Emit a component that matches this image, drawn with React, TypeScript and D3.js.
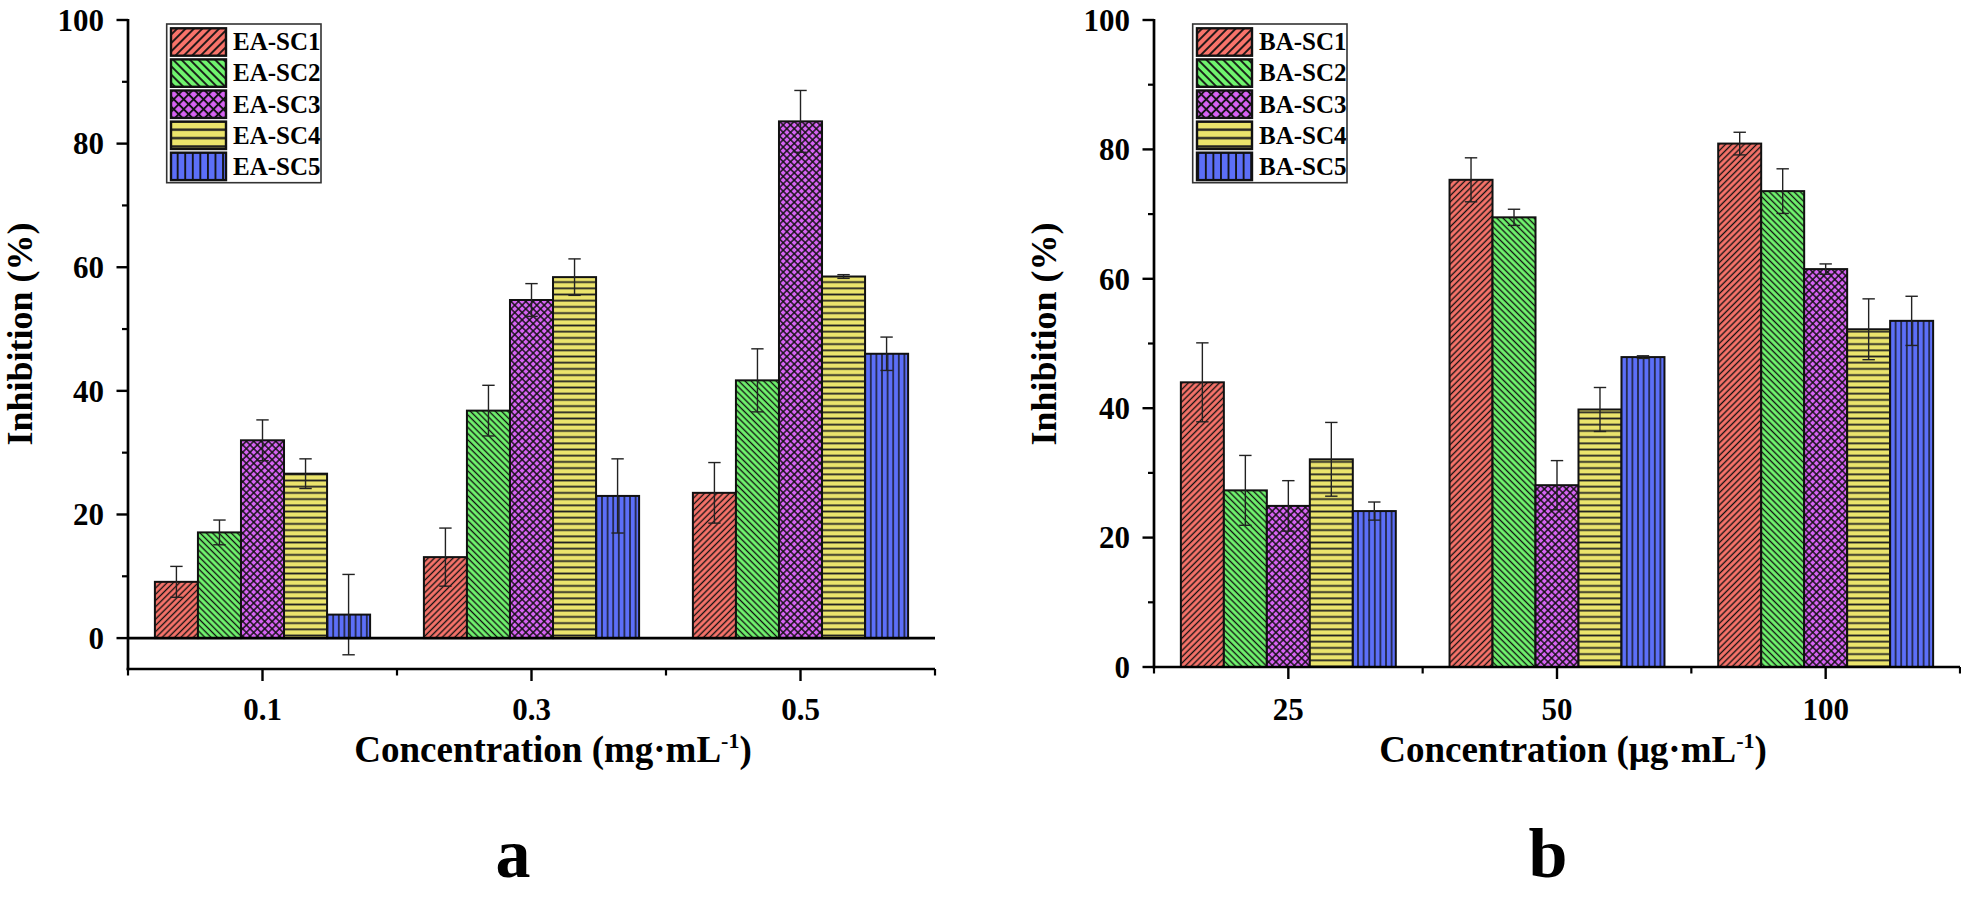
import React from "react";
import * as d3 from "d3";

// ---------- data ----------
const categoriesA = ["0.1", "0.3", "0.5"];
const seriesA = ["EA-SC1", "EA-SC2", "EA-SC3", "EA-SC4", "EA-SC5"];
const eaSC1 = [9.1, 13.1, 23.5];
const eaSC2 = [17.1, 36.8, 41.7];
const eaSC3 = [32.0, 54.7, 83.6];
const eaSC4 = [26.6, 58.4, 58.5];
const eaSC5 = [3.8, 23.0, 46.0];
const eaSC1Err = [2.5, 4.7, 4.9];
const eaSC2Err = [2.0, 4.1, 5.1];
const eaSC3Err = [3.3, 2.65, 5.0];
const eaSC4Err = [2.4, 2.95, 0.3];
const eaSC5Err = [6.5, 6.0, 2.7];

const categoriesB = ["25", "50", "100"];
const seriesB = ["BA-SC1", "BA-SC2", "BA-SC3", "BA-SC4", "BA-SC5"];
const baSC1 = [44.0, 75.3, 80.9];
const baSC2 = [27.3, 69.5, 73.55];
const baSC3 = [24.9, 28.1, 61.5];
const baSC4 = [32.1, 39.8, 52.2];
const baSC5 = [24.1, 47.9, 53.5];
const baSC1Err = [6.1, 3.4, 1.75];
const baSC2Err = [5.4, 1.25, 3.45];
const baSC3Err = [3.9, 3.8, 0.8];
const baSC4Err = [5.7, 3.4, 4.7];
const baSC5Err = [1.4, 0.2, 3.8];

const yMajorTicks = [0, 20, 40, 60, 80, 100];
const yMinorTicks = [10, 30, 50, 70, 90];

// ---------- style ----------
const FONT = '"Liberation Serif", "Times New Roman", Times, serif';
const COLORS = ["#F8736A", "#70F46E", "#D763F4", "#EBE46C", "#5C6FF8"];

function PatternDefs({ prefix, k }: { prefix: string; k: number }) {
  const lw = 1.35 * k;
  const sd = 4.4 * k;
  const sc = 5.2 * k;
  const sh = 6.2 * k;
  const sv = 5.6 * k;
  return (
    <>
      <pattern id={`${prefix}-0`} patternUnits="userSpaceOnUse" width={sd} height={sd} patternTransform="rotate(45)">
        <rect width={sd} height={sd} fill={COLORS[0]} />
        <line x1={sd / 2} y1={0} x2={sd / 2} y2={sd} stroke="#111" strokeWidth={lw} />
      </pattern>
      <pattern id={`${prefix}-1`} patternUnits="userSpaceOnUse" width={sd} height={sd} patternTransform="rotate(-45)">
        <rect width={sd} height={sd} fill={COLORS[1]} />
        <line x1={sd / 2} y1={0} x2={sd / 2} y2={sd} stroke="#111" strokeWidth={lw} />
      </pattern>
      <pattern id={`${prefix}-2`} patternUnits="userSpaceOnUse" width={sc} height={sc} patternTransform="rotate(45)">
        <rect width={sc} height={sc} fill={COLORS[2]} />
        <line x1={sc / 2} y1={0} x2={sc / 2} y2={sc} stroke="#111" strokeWidth={lw * 1.05} />
        <line x1={0} y1={sc / 2} x2={sc} y2={sc / 2} stroke="#111" strokeWidth={lw * 1.05} />
      </pattern>
      <pattern id={`${prefix}-3`} patternUnits="userSpaceOnUse" width={sh} height={sh}>
        <rect width={sh} height={sh} fill={COLORS[3]} />
        <line x1={0} y1={sh / 2} x2={sh} y2={sh / 2} stroke="#222" strokeWidth={lw * 1.3} />
      </pattern>
      <pattern id={`${prefix}-4`} patternUnits="userSpaceOnUse" width={sv} height={sv}>
        <rect width={sv} height={sv} fill={COLORS[4]} />
        <line x1={sv / 2} y1={0} x2={sv / 2} y2={sv} stroke="#111" strokeWidth={lw} />
      </pattern>
    </>
  );
}

type PanelCfg = {
  id: string;
  categories: string[];
  series: string[];
  values: number[][];
  errors: number[][];
  x0: number;
  x1: number;
  yTop: number;
  yBottom: number;
  yMin: number;
  xLabel: string;
  xLabelCx: number;
  yLabelX: number;
  letter: string;
  letterX: number;
};

function Panel({ cfg }: { cfg: PanelCfg }) {
  const x = d3
    .scaleBand<string>()
    .domain(cfg.categories)
    .range([cfg.x0, cfg.x1])
    .paddingInner(0.2)
    .paddingOuter(0.1);
  const xs = d3.scaleBand<string>().domain(cfg.series).range([0, x.bandwidth()]);
  const y = d3.scaleLinear().domain([cfg.yMin, 100]).range([cfg.yBottom, cfg.yTop]);
  const step = x.step();
  const boundaries = d3.range(cfg.categories.length + 1).map((i) => cfg.x0 + i * step);
  const axisY = y(cfg.yMin);
  const axisW = 2.7;

  return (
    <g>
      {/* bars */}
      {cfg.categories.map((cat, ci) =>
        cfg.series.map((s, si) => {
          const v = cfg.values[si][ci];
          const bx = (x(cat) as number) + (xs(s) as number);
          const bw = xs.bandwidth();
          return (
            <rect
              key={`${cat}-${s}`}
              x={bx}
              y={y(v)}
              width={bw}
              height={y(0) - y(v)}
              fill={`url(#${cfg.id}-bar-${si})`}
              stroke="#111"
              strokeWidth={2}
            />
          );
        })
      )}
      {/* error bars */}
      {cfg.categories.map((cat, ci) =>
        cfg.series.map((s, si) => {
          const v = cfg.values[si][ci];
          const e = cfg.errors[si][ci];
          const cx = (x(cat) as number) + (xs(s) as number) + xs.bandwidth() / 2;
          const cap = 6.2;
          return (
            <g key={`e-${cat}-${s}`} stroke="#222" strokeWidth={1.4}>
              <line x1={cx} x2={cx} y1={y(v + e)} y2={y(v - e)} />
              <line x1={cx - cap} x2={cx + cap} y1={y(v + e)} y2={y(v + e)} />
              <line x1={cx - cap} x2={cx + cap} y1={y(v - e)} y2={y(v - e)} />
            </g>
          );
        })
      )}
      {/* zero baseline */}
      {cfg.yMin < 0 && (
        <line x1={cfg.x0} x2={cfg.x1} y1={y(0)} y2={y(0)} stroke="#000" strokeWidth={2.6} />
      )}
      {/* y axis */}
      <line x1={cfg.x0} x2={cfg.x0} y1={axisY + axisW / 2} y2={y(100) - 1} stroke="#000" strokeWidth={axisW} />
      {yMajorTicks.map((t) => (
        <g key={`ym${t}`}>
          <line x1={cfg.x0 - 11.5} x2={cfg.x0} y1={y(t)} y2={y(t)} stroke="#000" strokeWidth={2.4} />
          <text
            x={cfg.x0 - 24}
            y={y(t)}
            dy="0.35em"
            textAnchor="end"
            fontFamily={FONT}
            fontWeight="bold"
            fontSize={31}
          >
            {t}
          </text>
        </g>
      ))}
      {yMinorTicks.map((t) => (
        <line key={`yn${t}`} x1={cfg.x0 - 6} x2={cfg.x0} y1={y(t)} y2={y(t)} stroke="#000" strokeWidth={2.2} />
      ))}
      {/* x axis */}
      <line x1={cfg.x0 - axisW / 2} x2={cfg.x1} y1={axisY} y2={axisY} stroke="#000" strokeWidth={axisW} />
      {boundaries.map((bx, i) => (
        <line key={`xb${i}`} x1={bx} x2={bx} y1={axisY} y2={axisY + 6.5} stroke="#000" strokeWidth={2.2} />
      ))}
      {cfg.categories.map((cat) => {
        const cx = (x(cat) as number) + x.bandwidth() / 2;
        return (
          <g key={`xt${cat}`}>
            <line x1={cx} x2={cx} y1={axisY} y2={axisY + 12} stroke="#000" strokeWidth={2.4} />
            <text x={cx} y={720} textAnchor="middle" fontFamily={FONT} fontWeight="bold" fontSize={31}>
              {cat}
            </text>
          </g>
        );
      })}
      {/* axis titles */}
      <text x={cfg.xLabelCx} y={762} textAnchor="middle" fontFamily={FONT} fontWeight="bold" fontSize={37}>
        {cfg.xLabel}
        <tspan dy={-14} fontSize={22}>
          -1
        </tspan>
        <tspan dy={14}>)</tspan>
      </text>
      <text
        transform={`translate(${cfg.yLabelX},334) rotate(-90)`}
        textAnchor="middle"
        fontFamily={FONT}
        fontWeight="bold"
        fontSize={36}
      >
        Inhibition (%)
      </text>
      {/* legend */}
      <rect
        x={cfg.x0 + 38.7}
        y={24}
        width={154.3}
        height={158.7}
        fill="#fff"
        stroke="#333"
        strokeWidth={1.6}
      />
      {cfg.series.map((s, si) => {
        const ry = 28.3 + si * 31.1;
        return (
          <g key={`lg${s}`}>
            <rect
              x={cfg.x0 + 43}
              y={ry}
              width={55}
              height={27.4}
              fill={`url(#${cfg.id}-leg-${si})`}
              stroke="#111"
              strokeWidth={2.4}
            />
            <text x={cfg.x0 + 105} y={ry + 22} fontFamily={FONT} fontWeight="bold" fontSize={25}>
              {s}
            </text>
          </g>
        );
      })}
      {/* panel letter */}
      <text x={cfg.letterX} y={877} textAnchor="middle" fontFamily={FONT} fontWeight="bold" fontSize={70}>
        {cfg.letter}
      </text>
    </g>
  );
}

export default function App() {
  const panelA: PanelCfg = {
    id: "pa",
    categories: categoriesA,
    series: seriesA,
    values: [eaSC1, eaSC2, eaSC3, eaSC4, eaSC5],
    errors: [eaSC1Err, eaSC2Err, eaSC3Err, eaSC4Err, eaSC5Err],
    x0: 128,
    x1: 935,
    yTop: 20,
    yBottom: 669,
    yMin: -5,
    xLabel: "Concentration (mg·mL",
    xLabelCx: 553,
    yLabelX: 32,
    letter: "a",
    letterX: 513,
  };
  const panelB: PanelCfg = {
    id: "pb",
    categories: categoriesB,
    series: seriesB,
    values: [baSC1, baSC2, baSC3, baSC4, baSC5],
    errors: [baSC1Err, baSC2Err, baSC3Err, baSC4Err, baSC5Err],
    x0: 1154,
    x1: 1960,
    yTop: 20,
    yBottom: 667,
    yMin: 0,
    xLabel: "Concentration (μg·mL",
    xLabelCx: 1573,
    yLabelX: 1056,
    letter: "b",
    letterX: 1548,
  };
  return (
    <svg
      width={1961}
      height={899}
      viewBox="0 0 1961 899"
      style={{ position: "absolute", left: 0, top: 0, display: "block", background: "#fff" }}
    >
      <defs>
        <PatternDefs prefix="pa-bar" k={1} />
        <PatternDefs prefix="pb-bar" k={1} />
        <PatternDefs prefix="pa-leg" k={1.35} />
        <PatternDefs prefix="pb-leg" k={1.35} />
      </defs>
      <rect width={1961} height={899} fill="#fff" />
      <Panel cfg={panelA} />
      <Panel cfg={panelB} />
    </svg>
  );
}
